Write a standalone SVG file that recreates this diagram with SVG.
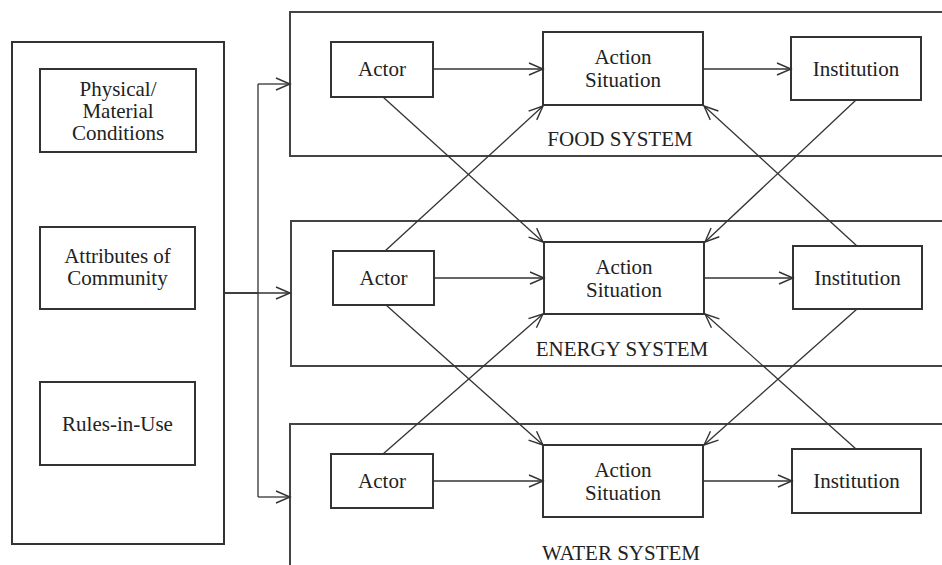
<svg xmlns="http://www.w3.org/2000/svg" width="942" height="565" viewBox="0 0 942 565">
<defs>
<marker id="arr" markerUnits="userSpaceOnUse" markerWidth="16" markerHeight="14" refX="15" refY="7" orient="auto" overflow="visible">
<path d="M1,1 L15,7 L1,13" fill="none" stroke="#333" stroke-width="1.4"/>
</marker>
<style>
.box{fill:none;stroke:#333;stroke-width:2}
.sys{fill:none;stroke:#444;stroke-width:2}
.t{font-size:21px;fill:#222;text-anchor:middle}
.c{fill:none;stroke:#333;stroke-width:1.3}
.ca{fill:none;stroke:#333;stroke-width:1.3;marker-end:url(#arr)}
</style>
</defs>
<rect width="942" height="565" fill="#fff"/>
<g font-family="Liberation Serif, serif">
<g id="context">
<rect class="box" x="12" y="42" width="212" height="502"/>
</g>
<g id="physical">
<rect class="box" x="40" y="69" width="156" height="83"/>
<text class="t" x="118" y="96">Physical/</text>
<text class="t" x="118" y="118">Material</text>
<text class="t" x="118" y="140">Conditions</text>
</g>
<g id="attributes">
<rect class="box" x="40" y="227" width="155" height="82"/>
<text class="t" x="117.5" y="263">Attributes of</text>
<text class="t" x="117.5" y="285">Community</text>
</g>
<g id="rules">
<rect class="box" x="40" y="382" width="155" height="83"/>
<text class="t" x="117.5" y="431">Rules-in-Use</text>
</g>

<g id="food-system">
<path class="sys" d="M950,12 H290 V156 H950"/>
<text class="t" x="620" y="146">FOOD SYSTEM</text>
</g>
<g id="energy-system">
<path class="sys" d="M950,221 H291 V366 H950"/>
<text class="t" x="622" y="356">ENERGY SYSTEM</text>
</g>
<g id="water-system">
<path class="sys" d="M950,424 H290 V570"/>
<text class="t" x="621" y="560">WATER SYSTEM</text>
</g>

<g id="food-actor">
<rect class="box" x="331" y="42" width="102" height="55"/>
<text class="t" x="382" y="76">Actor</text>
</g>
<g id="food-action">
<rect class="box" x="543" y="32" width="160" height="73"/>
<text class="t" x="623" y="64">Action</text>
<text class="t" x="623" y="87">Situation</text>
</g>
<g id="food-institution">
<rect class="box" x="791" y="37" width="130" height="63"/>
<text class="t" x="856" y="76">Institution</text>
</g>

<g id="energy-actor">
<rect class="box" x="333" y="251" width="101" height="54"/>
<text class="t" x="383.5" y="285">Actor</text>
</g>
<g id="energy-action">
<rect class="box" x="544" y="242" width="160" height="72"/>
<text class="t" x="624" y="274">Action</text>
<text class="t" x="624" y="297">Situation</text>
</g>
<g id="energy-institution">
<rect class="box" x="793" y="246" width="129" height="63"/>
<text class="t" x="857.5" y="285">Institution</text>
</g>

<g id="water-actor">
<rect class="box" x="331" y="454" width="102" height="54"/>
<text class="t" x="382" y="488">Actor</text>
</g>
<g id="water-action">
<rect class="box" x="543" y="445" width="160" height="72"/>
<text class="t" x="623" y="477">Action</text>
<text class="t" x="623" y="500">Situation</text>
</g>
<g id="water-institution">
<rect class="box" x="792" y="449" width="129" height="64"/>
<text class="t" x="856.5" y="488">Institution</text>
</g>
</g>
<g id="connectors">
<path class="c" d="M224,293 H258 M258,84 V497"/>
<path class="ca" d="M224,293 H290"/>
<path class="ca" d="M258,84 H290"/>
<path class="ca" d="M258,497 H290"/>

<path class="ca" d="M433,69 H543"/>
<path class="ca" d="M703,69 H791"/>
<path class="ca" d="M434,278 H544"/>
<path class="ca" d="M704,278 H793"/>
<path class="ca" d="M433,481 H543"/>
<path class="ca" d="M703,481 H792"/>

<path class="ca" d="M383,97 L543,242"/>
<path class="ca" d="M385,251 L543,106"/>
<path class="ca" d="M856,100 L705,242"/>
<path class="ca" d="M857,246 L704,106"/>

<path class="ca" d="M386,305 L543,445"/>
<path class="ca" d="M383,454 L543,314"/>
<path class="ca" d="M857,309 L704,445"/>
<path class="ca" d="M856,449 L705,314"/>
</g>
</svg>
